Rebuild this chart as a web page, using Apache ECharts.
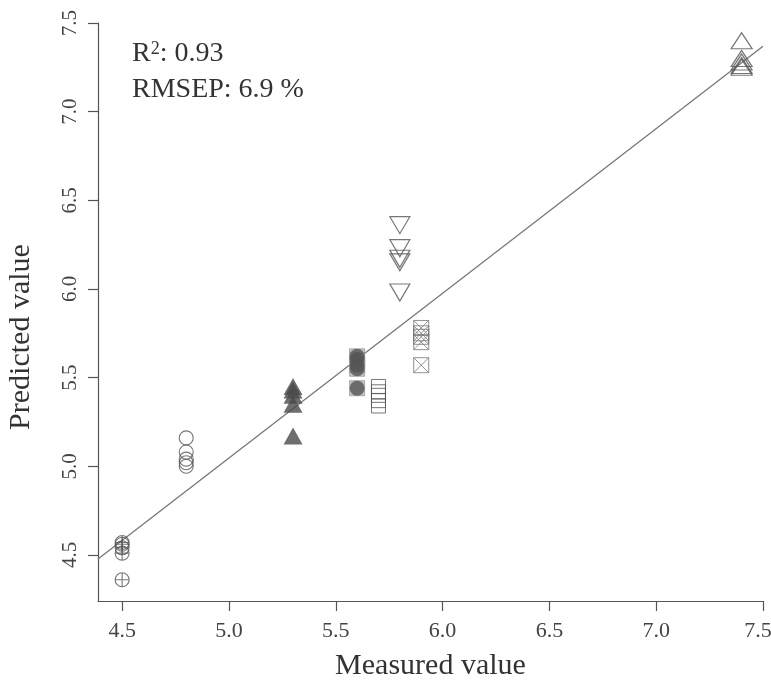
<!DOCTYPE html>
<html>
<head>
<meta charset="utf-8">
<script src="https://cdn.jsdelivr.net/npm/echarts@6/dist/echarts.min.js"></script>
<style>
  html, body { margin: 0; padding: 0; background: #fff; }
  #chart { width: 771px; height: 680px; }
</style>
</head>
<body>
<div id="chart"></div>
<script>
// Measured value of each sample group
const measured = [4.5, 4.8, 5.3, 5.6, 5.7, 5.8, 5.9, 7.4]

// Predicted values per group
const pred45 = [4.57, 4.56, 4.54, 4.51, 4.36]
const pred48 = [5.16, 5.08, 5.04, 5.02, 5.00]
const pred53 = [5.45, 5.43, 5.40, 5.35, 5.17]
const pred56 = [5.62, 5.60, 5.57, 5.55, 5.44]
const pred57 = [5.45, 5.42, 5.40, 5.37, 5.34]
const pred58 = [6.36, 6.23, 6.17, 6.15, 5.98]
const pred59 = [5.78, 5.75, 5.73, 5.70, 5.57]
const pred74 = [7.40, 7.30, 7.28, 7.26, 7.25]

// Fitted line end points
const fitX = [4.387, 7.5]
const fitY = [4.477, 7.369]

const tickValues = [4.5, 5.0, 5.5, 6.0, 6.5, 7.0, 7.5]

const FONT = 'Liberation Serif'
const INK = '#555'

const pairs = (x, ys) => ys.map(y => [x, y])

const openStyle = (w) => ({ color: 'rgba(0,0,0,0)', borderColor: INK, borderWidth: w || 1.2 })

const circlePlus = 'path://M0,10 A10,10 0 1,1 20,10 A10,10 0 1,1 0,10 Z M10,0 L10,20 M0,10 L20,10'
const squareX = 'path://M0,0 L20,0 L20,20 L0,20 Z M0,0 L20,20 M20,0 L0,20'
const triDown = 'path://M0,0 L20,0 L10,18 Z'

const chart = echarts.init(document.getElementById('chart'))

chart.setOption({
  animation: false,
  grid: { left: 98, right: 8, top: 23, bottom: 79, outerBoundsMode: 'none', containLabel: false },
  xAxis: {
    type: 'value',
    min: 4.387,
    max: 7.5,
    name: 'Measured value',
    nameLocation: 'middle',
    nameGap: 50,
    nameTextStyle: { fontFamily: FONT, fontSize: 30, color: '#333' },
    axisLine: { show: true, lineStyle: { color: INK, width: 1.2 } },
    axisTick: { show: true, length: 10, customValues: tickValues, lineStyle: { color: INK, width: 1.2 } },
    axisLabel: {
      customValues: tickValues,
      margin: 19,
      fontFamily: FONT,
      fontSize: 22,
      color: '#444',
      // keep the last label inside the page
      formatter: v => v === 7.5 ? '{m|7.5}' : v.toFixed(1),
      rich: {
        m: { fontFamily: FONT, fontSize: 22, color: '#444', padding: [0, 10, 0, 0] }
      }
    },
    splitLine: { show: false }
  },
  yAxis: {
    type: 'value',
    min: 4.24,
    max: 7.5,
    name: 'Predicted value',
    nameLocation: 'middle',
    nameGap: 62,
    nameTextStyle: { fontFamily: FONT, fontSize: 30, color: '#333', padding: [0, 50, 0, 0] },
    axisLine: { show: true, lineStyle: { color: INK, width: 1.2 } },
    axisTick: { show: true, length: 10, customValues: tickValues, lineStyle: { color: INK, width: 1.2 } },
    axisLabel: {
      customValues: tickValues,
      rotate: 90,
      margin: 17,
      fontFamily: FONT,
      fontSize: 21,
      color: '#444',
      formatter: v => v.toFixed(1)
    },
    splitLine: { show: false }
  },
  graphic: [
    {
      type: 'text',
      left: 132,
      top: 40,
      style: {
        text: '{a|R}{s|2}{a|: 0.93}',
        rich: {
          a: { fontFamily: FONT, fontSize: 28, fill: '#333' },
          s: { fontFamily: FONT, fontSize: 18, fill: '#333', verticalAlign: 'top', padding: [0, 0, 8, 0] }
        }
      }
    },
    {
      type: 'text',
      left: 132,
      top: 76,
      style: { text: 'RMSEP: 6.9 %', fontFamily: FONT, fontSize: 28, fill: '#333' }
    }
  ],
  series: [
    {
      type: 'line',
      data: fitX.map((x, i) => [x, fitY[i]]),
      symbol: 'none',
      lineStyle: { color: '#777', width: 1.3 },
      z: 1
    },
    {
      type: 'scatter',
      data: pairs(measured[0], pred45),
      symbol: circlePlus,
      symbolSize: 14,
      itemStyle: openStyle(1.1)
    },
    {
      type: 'scatter',
      data: pairs(measured[1], pred48),
      symbol: 'circle',
      symbolSize: 14,
      itemStyle: openStyle(1.1)
    },
    {
      type: 'scatter',
      data: pairs(measured[2], pred53),
      symbol: 'triangle',
      symbolSize: [19, 17],
      itemStyle: { color: '#4a4a4a' }
    },
    {
      type: 'scatter',
      data: pairs(measured[3], pred56),
      symbol: 'rect',
      symbolSize: 15,
      itemStyle: { color: '#b5b5b5', borderColor: '#9a9a9a', borderWidth: 1 },
      z: 2
    },
    {
      type: 'scatter',
      data: pairs(measured[3], pred56),
      symbol: 'circle',
      symbolSize: 15,
      itemStyle: { color: '#555' },
      z: 3
    },
    {
      type: 'scatter',
      data: pairs(measured[4], pred57),
      symbol: 'rect',
      symbolSize: 14,
      itemStyle: openStyle(1)
    },
    {
      type: 'scatter',
      data: pairs(measured[5], pred58),
      symbol: triDown,
      symbolSize: [20, 17],
      itemStyle: openStyle(1.2)
    },
    {
      type: 'scatter',
      data: pairs(measured[6], pred59),
      symbol: squareX,
      symbolSize: 15,
      itemStyle: { color: 'rgba(0,0,0,0)', borderColor: '#777', borderWidth: 1 }
    },
    {
      type: 'scatter',
      data: pairs(measured[7], pred74),
      symbol: 'triangle',
      symbolSize: [21, 16],
      itemStyle: openStyle(1.2)
    }
  ]
})
</script>
</body>
</html>
